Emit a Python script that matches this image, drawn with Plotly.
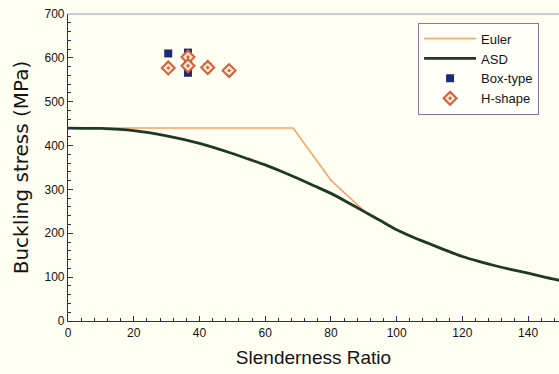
import plotly.graph_objects as go

# Slenderness ratio grid and ASD allowable buckling stress (MPa)
asd_lambda = [0, 10, 20, 30, 40, 50, 55, 60, 65, 70, 75, 80, 85, 90, 95,
              100, 105, 110, 115, 120, 125, 130, 135, 140, 145, 150]
asd_stress = [440, 439, 434, 422, 405, 382, 369, 356, 341, 325, 308, 291, 271, 250, 229,
              208, 191, 176, 161, 147, 136, 126, 117, 109, 100, 92]

# Euler curve capped at the yield plateau
euler_lambda = [0, 68.5, 80, 90.4, 100, 110, 120, 130, 140, 150]
euler_stress = [440, 440, 321, 249, 208, 176, 147, 126, 109, 92]

# Test results
box_lambda = [30.5, 36.5, 36.5, 36.5, 36.5, 42.5, 49]
box_stress = [610, 612, 596, 580, 566, 579, 571]

h_lambda = [30.5, 36.5, 36.5, 42.5, 49]
h_stress = [577, 602, 582, 578, 571]

font_family = "Liberation Sans, Arial, sans-serif"
bg = "#FEFEF2"
axis_col = "#2E2A6E"
text_col = "#141414"

fig = go.Figure()
fig.add_trace(go.Scatter(x=euler_lambda, y=euler_stress, mode="lines", name="Euler",
                         line=dict(color="#F5A462", width=1.6)))
fig.add_trace(go.Scatter(x=asd_lambda, y=asd_stress, mode="lines", name="ASD",
                         line=dict(color="#1F3A24", width=2.8, shape="spline", smoothing=0.6)))
fig.add_trace(go.Scatter(x=box_lambda, y=box_stress, mode="markers", name="Box-type",
                         marker=dict(symbol="square", size=8, color="#1E2A72")))
fig.add_trace(go.Scatter(x=h_lambda, y=h_stress, mode="markers", name="H-shape",
                         marker=dict(symbol="diamond-dot", size=10, color="#FBE9D6",
                                     line=dict(color="#D5603A", width=2))))

fig.add_shape(type="line", xref="paper", yref="paper", x0=0, x1=1, y0=1, y1=1,
              line=dict(color="#9A96C8", width=1))

fig.update_layout(
    width=559, height=374,
    margin=dict(l=68, r=0, t=14, b=53),
    paper_bgcolor=bg, plot_bgcolor=bg,
    font=dict(family=font_family, color=text_col),
    showlegend=True,
    legend=dict(x=0.713, y=0.972, xanchor="left", yanchor="top",
                bgcolor="#FFFFF8", bordercolor="#8478A8", borderwidth=1,
                font=dict(size=13, family=font_family, color=text_col),
                itemwidth=52, tracegroupgap=0),
    xaxis=dict(range=[0, 149.4], dtick=20, showgrid=False, zeroline=False,
               showline=True, linecolor=axis_col, linewidth=1.2,
               ticks="inside", ticklen=5, tickcolor=axis_col,
               minor=dict(ticks="inside", dtick=4, ticklen=3, tickcolor=axis_col),
               tickfont=dict(size=12, family=font_family, color=text_col),
               title=dict(text="Slenderness Ratio",
                          font=dict(size=19, family=font_family, color=text_col),
                          standoff=12)),
    yaxis=dict(range=[0, 700], dtick=100, showgrid=False, zeroline=False,
               showline=True, linecolor=axis_col, linewidth=1.2,
               ticks="inside", ticklen=5, tickcolor=axis_col,
               minor=dict(ticks="inside", dtick=20, ticklen=3, tickcolor=axis_col),
               tickfont=dict(size=12, family=font_family, color=text_col),
               title=dict(text="Buckling stress (MPa)",
                          font=dict(size=20, family="DejaVu Sans, sans-serif", color=text_col),
                          standoff=10)),
)

fig.write_html("out.html")
